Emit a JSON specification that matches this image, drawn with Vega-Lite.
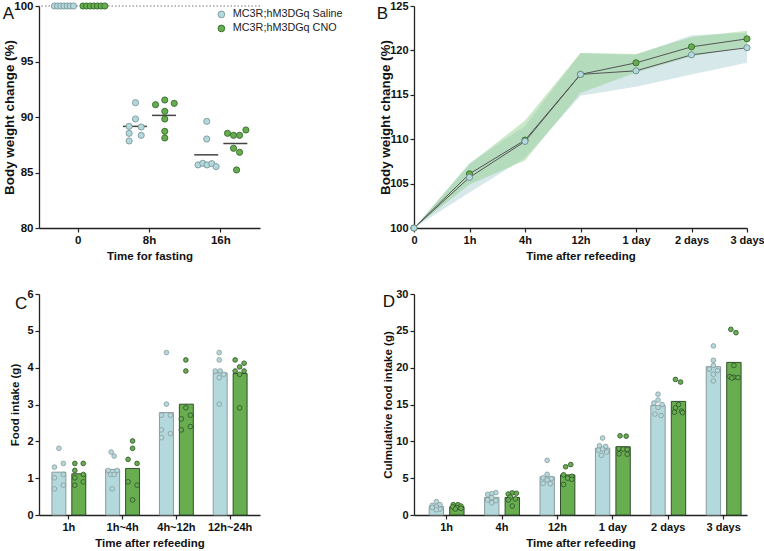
{
"$schema":"https://vega.github.io/schema/vega-lite/v6.json",
"background":"white",
"padding":{"left":2,"top":0,"right":0,"bottom":0},
"columns":2,
"spacing":{"row":66,"column":154},
"bounds":"flush",
"resolve":{"scale":{"fill":"independent","stroke":"independent","xOffset":"independent","x":"independent","y":"independent"}},
"config":{
 "view":{"stroke":null},
 "font":"Liberation Sans",
 "axis":{"labelFont":"Liberation Sans","titleFont":"Liberation Sans","labelFontSize":11,"titleFontSize":11.5,"labelFontWeight":"bold","titleFontWeight":"bold","labelColor":"#111","titleColor":"#111","domainColor":"#222","tickColor":"#222","domainWidth":1.3,"tickWidth":1.2,"tickSize":4,"grid":false,"labelPadding":2,"titlePadding":5},
 "axisY":{"titlePadding":2},
 "title":{"font":"Liberation Sans","fontSize":17,"fontWeight":"normal","color":"#111","anchor":"start","frame":"bounds","offset":0}
},
"datasets":{
 "fast":[
  {"time":"0","group":"MC3R;hM3DGq Saline","pct":100,"col":-3.27},
  {"time":"0","group":"MC3R;hM3DGq Saline","pct":100,"col":-2.83},
  {"time":"0","group":"MC3R;hM3DGq Saline","pct":100,"col":-2.4},
  {"time":"0","group":"MC3R;hM3DGq Saline","pct":100,"col":-1.96},
  {"time":"0","group":"MC3R;hM3DGq Saline","pct":100,"col":-1.52},
  {"time":"0","group":"MC3R;hM3DGq Saline","pct":100,"col":-1.09},
  {"time":"0","group":"MC3R;hM3DGq Saline","pct":100,"col":-0.65},
  {"time":"0","group":"MC3R;hM3DGq CNO","pct":100,"col":0.65},
  {"time":"0","group":"MC3R;hM3DGq CNO","pct":100,"col":1.15},
  {"time":"0","group":"MC3R;hM3DGq CNO","pct":100,"col":1.65},
  {"time":"0","group":"MC3R;hM3DGq CNO","pct":100,"col":2.15},
  {"time":"0","group":"MC3R;hM3DGq CNO","pct":100,"col":2.65},
  {"time":"0","group":"MC3R;hM3DGq CNO","pct":100,"col":3.15},
  {"time":"0","group":"MC3R;hM3DGq CNO","pct":100,"col":3.65},
  {"time":"8h","group":"MC3R;hM3DGq Saline","pct":91.29,"col":-1.93},
  {"time":"8h","group":"MC3R;hM3DGq Saline","pct":89.82,"col":-1.93},
  {"time":"8h","group":"MC3R;hM3DGq Saline","pct":89.16,"col":-2.8},
  {"time":"8h","group":"MC3R;hM3DGq Saline","pct":89.10,"col":-1.14},
  {"time":"8h","group":"MC3R;hM3DGq Saline","pct":88.53,"col":-2.8},
  {"time":"8h","group":"MC3R;hM3DGq Saline","pct":88.35,"col":-1.14},
  {"time":"8h","group":"MC3R;hM3DGq Saline","pct":87.84,"col":-2.8},
  {"time":"8h","group":"MC3R;hM3DGq CNO","pct":91.53,"col":2.1},
  {"time":"8h","group":"MC3R;hM3DGq CNO","pct":91.11,"col":0.83},
  {"time":"8h","group":"MC3R;hM3DGq CNO","pct":91.23,"col":3.4},
  {"time":"8h","group":"MC3R;hM3DGq CNO","pct":90.51,"col":2.1},
  {"time":"8h","group":"MC3R;hM3DGq CNO","pct":89.82,"col":2.1},
  {"time":"8h","group":"MC3R;hM3DGq CNO","pct":88.71,"col":2.1},
  {"time":"8h","group":"MC3R;hM3DGq CNO","pct":88.11,"col":2.1},
  {"time":"16h","group":"MC3R;hM3DGq Saline","pct":89.61,"col":-1.93},
  {"time":"16h","group":"MC3R;hM3DGq Saline","pct":88.02,"col":-1.93},
  {"time":"16h","group":"MC3R;hM3DGq Saline","pct":85.68,"col":-3.13},
  {"time":"16h","group":"MC3R;hM3DGq Saline","pct":85.83,"col":-2.48},
  {"time":"16h","group":"MC3R;hM3DGq Saline","pct":85.68,"col":-1.9},
  {"time":"16h","group":"MC3R;hM3DGq Saline","pct":85.80,"col":-1.24},
  {"time":"16h","group":"MC3R;hM3DGq Saline","pct":85.53,"col":-0.65},
  {"time":"16h","group":"MC3R;hM3DGq CNO","pct":88.53,"col":0.92},
  {"time":"16h","group":"MC3R;hM3DGq CNO","pct":88.35,"col":1.75},
  {"time":"16h","group":"MC3R;hM3DGq CNO","pct":88.35,"col":2.58},
  {"time":"16h","group":"MC3R;hM3DGq CNO","pct":88.83,"col":3.45},
  {"time":"16h","group":"MC3R;hM3DGq CNO","pct":87.18,"col":1.75},
  {"time":"16h","group":"MC3R;hM3DGq CNO","pct":86.82,"col":2.58},
  {"time":"16h","group":"MC3R;hM3DGq CNO","pct":85.23,"col":2.17}
 ],
 "refeed":[
  {"time":"0","group":"MC3R;hM3DGq CNO","mean":100,"lo":100,"hi":100},
  {"time":"1h","group":"MC3R;hM3DGq CNO","mean":106.1,"lo":104.9,"hi":107.2},
  {"time":"4h","group":"MC3R;hM3DGq CNO","mean":109.9,"lo":107.6,"hi":112.1},
  {"time":"12h","group":"MC3R;hM3DGq CNO","mean":117.3,"lo":115.2,"hi":119.7},
  {"time":"1 day","group":"MC3R;hM3DGq CNO","mean":118.6,"lo":117.5,"hi":119.6},
  {"time":"2 days","group":"MC3R;hM3DGq CNO","mean":120.4,"lo":119.3,"hi":121.5},
  {"time":"3 days","group":"MC3R;hM3DGq CNO","mean":121.3,"lo":120.4,"hi":122.2},
  {"time":"0","group":"MC3R;hM3DGq Saline","mean":100,"lo":100,"hi":100},
  {"time":"1h","group":"MC3R;hM3DGq Saline","mean":105.7,"lo":104.0,"hi":107.3},
  {"time":"4h","group":"MC3R;hM3DGq Saline","mean":109.75,"lo":107.9,"hi":111.5},
  {"time":"12h","group":"MC3R;hM3DGq Saline","mean":117.3,"lo":114.9,"hi":119.7},
  {"time":"1 day","group":"MC3R;hM3DGq Saline","mean":117.7,"lo":115.9,"hi":119.5},
  {"time":"2 days","group":"MC3R;hM3DGq Saline","mean":119.5,"lo":117.3,"hi":121.7},
  {"time":"3 days","group":"MC3R;hM3DGq Saline","mean":120.3,"lo":118.6,"hi":122.0}
 ],
 "intake":[
  {"time":"1h","group":"MC3R;hM3DGq Saline","g":1.81,"col":-2},
  {"time":"1h","group":"MC3R;hM3DGq Saline","g":1.30,"col":-2.9},
  {"time":"1h","group":"MC3R;hM3DGq Saline","g":1.40,"col":-1.1},
  {"time":"1h","group":"MC3R;hM3DGq Saline","g":1.01,"col":-2.9},
  {"time":"1h","group":"MC3R;hM3DGq Saline","g":1.10,"col":-1.1},
  {"time":"1h","group":"MC3R;hM3DGq Saline","g":0.71,"col":-2.9},
  {"time":"1h","group":"MC3R;hM3DGq Saline","g":0.81,"col":-1.1},
  {"time":"1h","group":"MC3R;hM3DGq CNO","g":1.40,"col":1.2},
  {"time":"1h","group":"MC3R;hM3DGq CNO","g":1.40,"col":2.9},
  {"time":"1h","group":"MC3R;hM3DGq CNO","g":1.21,"col":1.2},
  {"time":"1h","group":"MC3R;hM3DGq CNO","g":1.10,"col":2.9},
  {"time":"1h","group":"MC3R;hM3DGq CNO","g":1.01,"col":1.2},
  {"time":"1h","group":"MC3R;hM3DGq CNO","g":0.90,"col":2.9},
  {"time":"1h","group":"MC3R;hM3DGq CNO","g":0.81,"col":1.2},
  {"time":"1h~4h","group":"MC3R;hM3DGq Saline","g":1.71,"col":-2.3},
  {"time":"1h~4h","group":"MC3R;hM3DGq Saline","g":1.60,"col":-1.7},
  {"time":"1h~4h","group":"MC3R;hM3DGq Saline","g":1.21,"col":-2.9},
  {"time":"1h~4h","group":"MC3R;hM3DGq Saline","g":1.21,"col":-1.1},
  {"time":"1h~4h","group":"MC3R;hM3DGq Saline","g":1.10,"col":-2.4},
  {"time":"1h~4h","group":"MC3R;hM3DGq Saline","g":1.10,"col":-1.7},
  {"time":"1h~4h","group":"MC3R;hM3DGq Saline","g":0.71,"col":-2.1},
  {"time":"1h~4h","group":"MC3R;hM3DGq CNO","g":2.01,"col":2},
  {"time":"1h~4h","group":"MC3R;hM3DGq CNO","g":1.81,"col":2},
  {"time":"1h~4h","group":"MC3R;hM3DGq CNO","g":1.51,"col":1.1},
  {"time":"1h~4h","group":"MC3R;hM3DGq CNO","g":1.40,"col":2.9},
  {"time":"1h~4h","group":"MC3R;hM3DGq CNO","g":0.90,"col":1.1},
  {"time":"1h~4h","group":"MC3R;hM3DGq CNO","g":0.81,"col":2.9},
  {"time":"1h~4h","group":"MC3R;hM3DGq CNO","g":0.41,"col":2},
  {"time":"4h~12h","group":"MC3R;hM3DGq Saline","g":4.41,"col":-2},
  {"time":"4h~12h","group":"MC3R;hM3DGq Saline","g":3.01,"col":-2},
  {"time":"4h~12h","group":"MC3R;hM3DGq Saline","g":2.71,"col":-3},
  {"time":"4h~12h","group":"MC3R;hM3DGq Saline","g":2.71,"col":-1.2},
  {"time":"4h~12h","group":"MC3R;hM3DGq Saline","g":2.31,"col":-3},
  {"time":"4h~12h","group":"MC3R;hM3DGq Saline","g":2.21,"col":-1.2},
  {"time":"4h~12h","group":"MC3R;hM3DGq Saline","g":2.10,"col":-3},
  {"time":"4h~12h","group":"MC3R;hM3DGq CNO","g":4.21,"col":1.9},
  {"time":"4h~12h","group":"MC3R;hM3DGq CNO","g":3.91,"col":1.9},
  {"time":"4h~12h","group":"MC3R;hM3DGq CNO","g":2.91,"col":1.9},
  {"time":"4h~12h","group":"MC3R;hM3DGq CNO","g":2.61,"col":1},
  {"time":"4h~12h","group":"MC3R;hM3DGq CNO","g":2.71,"col":2.8},
  {"time":"4h~12h","group":"MC3R;hM3DGq CNO","g":2.31,"col":1},
  {"time":"4h~12h","group":"MC3R;hM3DGq CNO","g":2.40,"col":2.8},
  {"time":"12h~24h","group":"MC3R;hM3DGq Saline","g":4.41,"col":-2.2},
  {"time":"12h~24h","group":"MC3R;hM3DGq Saline","g":4.21,"col":-2.2},
  {"time":"12h~24h","group":"MC3R;hM3DGq Saline","g":3.91,"col":-3},
  {"time":"12h~24h","group":"MC3R;hM3DGq Saline","g":3.91,"col":-2},
  {"time":"12h~24h","group":"MC3R;hM3DGq Saline","g":3.82,"col":-1.3},
  {"time":"12h~24h","group":"MC3R;hM3DGq Saline","g":3.73,"col":-2.2},
  {"time":"12h~24h","group":"MC3R;hM3DGq Saline","g":3.01,"col":-2.2},
  {"time":"12h~24h","group":"MC3R;hM3DGq CNO","g":4.21,"col":1},
  {"time":"12h~24h","group":"MC3R;hM3DGq CNO","g":4.12,"col":2.8},
  {"time":"12h~24h","group":"MC3R;hM3DGq CNO","g":4.02,"col":1.9},
  {"time":"12h~24h","group":"MC3R;hM3DGq CNO","g":3.91,"col":1},
  {"time":"12h~24h","group":"MC3R;hM3DGq CNO","g":3.91,"col":2.8},
  {"time":"12h~24h","group":"MC3R;hM3DGq CNO","g":3.82,"col":1.9},
  {"time":"12h~24h","group":"MC3R;hM3DGq CNO","g":2.91,"col":1.9}
 ],
 "cumul":[
  {"time":"1h","group":"MC3R;hM3DGq Saline","g":1.81,"col":-2},
  {"time":"1h","group":"MC3R;hM3DGq Saline","g":1.40,"col":-1.3},
  {"time":"1h","group":"MC3R;hM3DGq Saline","g":1.30,"col":-2.8},
  {"time":"1h","group":"MC3R;hM3DGq Saline","g":1.10,"col":-2},
  {"time":"1h","group":"MC3R;hM3DGq Saline","g":1.01,"col":-2.8},
  {"time":"1h","group":"MC3R;hM3DGq Saline","g":0.81,"col":-1.3},
  {"time":"1h","group":"MC3R;hM3DGq Saline","g":0.71,"col":-2},
  {"time":"1h","group":"MC3R;hM3DGq CNO","g":1.40,"col":1.3},
  {"time":"1h","group":"MC3R;hM3DGq CNO","g":1.40,"col":2.2},
  {"time":"1h","group":"MC3R;hM3DGq CNO","g":1.21,"col":2.8},
  {"time":"1h","group":"MC3R;hM3DGq CNO","g":1.10,"col":1.2},
  {"time":"1h","group":"MC3R;hM3DGq CNO","g":1.01,"col":2.0},
  {"time":"1h","group":"MC3R;hM3DGq CNO","g":0.90,"col":2.8},
  {"time":"1h","group":"MC3R;hM3DGq CNO","g":0.81,"col":1.7},
  {"time":"4h","group":"MC3R;hM3DGq Saline","g":3.03,"col":-1.2},
  {"time":"4h","group":"MC3R;hM3DGq Saline","g":2.90,"col":-2},
  {"time":"4h","group":"MC3R;hM3DGq Saline","g":2.81,"col":-2.8},
  {"time":"4h","group":"MC3R;hM3DGq Saline","g":2.36,"col":-2},
  {"time":"4h","group":"MC3R;hM3DGq Saline","g":2.04,"col":-2.8},
  {"time":"4h","group":"MC3R;hM3DGq Saline","g":1.95,"col":-1.2},
  {"time":"4h","group":"MC3R;hM3DGq Saline","g":1.66,"col":-2},
  {"time":"4h","group":"MC3R;hM3DGq CNO","g":3.00,"col":2},
  {"time":"4h","group":"MC3R;hM3DGq CNO","g":2.95,"col":2.8},
  {"time":"4h","group":"MC3R;hM3DGq CNO","g":2.85,"col":1.2},
  {"time":"4h","group":"MC3R;hM3DGq CNO","g":2.45,"col":1.6},
  {"time":"4h","group":"MC3R;hM3DGq CNO","g":2.20,"col":2.6},
  {"time":"4h","group":"MC3R;hM3DGq CNO","g":2.05,"col":1.2},
  {"time":"4h","group":"MC3R;hM3DGq CNO","g":1.22,"col":2},
  {"time":"12h","group":"MC3R;hM3DGq Saline","g":7.42,"col":-2},
  {"time":"12h","group":"MC3R;hM3DGq Saline","g":5.52,"col":-2},
  {"time":"12h","group":"MC3R;hM3DGq Saline","g":5.05,"col":-2.8},
  {"time":"12h","group":"MC3R;hM3DGq Saline","g":4.95,"col":-1.2},
  {"time":"12h","group":"MC3R;hM3DGq Saline","g":4.75,"col":-2},
  {"time":"12h","group":"MC3R;hM3DGq Saline","g":4.30,"col":-2.8},
  {"time":"12h","group":"MC3R;hM3DGq Saline","g":4.25,"col":-1.4},
  {"time":"12h","group":"MC3R;hM3DGq CNO","g":6.85,"col":2.6},
  {"time":"12h","group":"MC3R;hM3DGq CNO","g":6.55,"col":1.6},
  {"time":"12h","group":"MC3R;hM3DGq CNO","g":5.45,"col":1.2},
  {"time":"12h","group":"MC3R;hM3DGq CNO","g":5.25,"col":2.8},
  {"time":"12h","group":"MC3R;hM3DGq CNO","g":5.00,"col":2},
  {"time":"12h","group":"MC3R;hM3DGq CNO","g":4.85,"col":2.8},
  {"time":"12h","group":"MC3R;hM3DGq CNO","g":4.15,"col":1.2},
  {"time":"1 day","group":"MC3R;hM3DGq Saline","g":10.45,"col":-2},
  {"time":"1 day","group":"MC3R;hM3DGq Saline","g":9.40,"col":-2.6},
  {"time":"1 day","group":"MC3R;hM3DGq Saline","g":9.30,"col":-1.4},
  {"time":"1 day","group":"MC3R;hM3DGq Saline","g":8.95,"col":-2},
  {"time":"1 day","group":"MC3R;hM3DGq Saline","g":8.80,"col":-2.8},
  {"time":"1 day","group":"MC3R;hM3DGq Saline","g":8.55,"col":-1.2},
  {"time":"1 day","group":"MC3R;hM3DGq Saline","g":8.10,"col":-2.2},
  {"time":"1 day","group":"MC3R;hM3DGq CNO","g":10.75,"col":1.4},
  {"time":"1 day","group":"MC3R;hM3DGq CNO","g":10.70,"col":2.6},
  {"time":"1 day","group":"MC3R;hM3DGq CNO","g":9.00,"col":1.2},
  {"time":"1 day","group":"MC3R;hM3DGq CNO","g":8.95,"col":2},
  {"time":"1 day","group":"MC3R;hM3DGq CNO","g":8.90,"col":2.8},
  {"time":"1 day","group":"MC3R;hM3DGq CNO","g":8.30,"col":1.2},
  {"time":"1 day","group":"MC3R;hM3DGq CNO","g":8.25,"col":2.8},
  {"time":"2 days","group":"MC3R;hM3DGq Saline","g":16.40,"col":-2},
  {"time":"2 days","group":"MC3R;hM3DGq Saline","g":15.60,"col":-2},
  {"time":"2 days","group":"MC3R;hM3DGq Saline","g":15.20,"col":-2.8},
  {"time":"2 days","group":"MC3R;hM3DGq Saline","g":15.00,"col":-1.2},
  {"time":"2 days","group":"MC3R;hM3DGq Saline","g":14.60,"col":-2},
  {"time":"2 days","group":"MC3R;hM3DGq Saline","g":13.70,"col":-2.6},
  {"time":"2 days","group":"MC3R;hM3DGq Saline","g":13.50,"col":-1.4},
  {"time":"2 days","group":"MC3R;hM3DGq CNO","g":18.40,"col":1.4},
  {"time":"2 days","group":"MC3R;hM3DGq CNO","g":18.05,"col":2.4},
  {"time":"2 days","group":"MC3R;hM3DGq CNO","g":15.00,"col":2},
  {"time":"2 days","group":"MC3R;hM3DGq CNO","g":14.55,"col":1.4},
  {"time":"2 days","group":"MC3R;hM3DGq CNO","g":14.10,"col":2.6},
  {"time":"2 days","group":"MC3R;hM3DGq CNO","g":13.95,"col":1.2},
  {"time":"2 days","group":"MC3R;hM3DGq CNO","g":13.90,"col":2.8},
  {"time":"3 days","group":"MC3R;hM3DGq Saline","g":22.95,"col":-2},
  {"time":"3 days","group":"MC3R;hM3DGq Saline","g":21.00,"col":-2},
  {"time":"3 days","group":"MC3R;hM3DGq Saline","g":20.30,"col":-2},
  {"time":"3 days","group":"MC3R;hM3DGq Saline","g":19.80,"col":-2.8},
  {"time":"3 days","group":"MC3R;hM3DGq Saline","g":19.60,"col":-1.2},
  {"time":"3 days","group":"MC3R;hM3DGq Saline","g":19.10,"col":-2},
  {"time":"3 days","group":"MC3R;hM3DGq Saline","g":18.20,"col":-2},
  {"time":"3 days","group":"MC3R;hM3DGq CNO","g":25.20,"col":1.4},
  {"time":"3 days","group":"MC3R;hM3DGq CNO","g":24.75,"col":2.4},
  {"time":"3 days","group":"MC3R;hM3DGq CNO","g":20.30,"col":2},
  {"time":"3 days","group":"MC3R;hM3DGq CNO","g":18.80,"col":1.2},
  {"time":"3 days","group":"MC3R;hM3DGq CNO","g":18.70,"col":2},
  {"time":"3 days","group":"MC3R;hM3DGq CNO","g":18.65,"col":2.8},
  {"time":"3 days","group":"MC3R;hM3DGq CNO","g":18.60,"col":1.6}
 ]
},
"concat":[
 {
  "width":221,"height":222,
  "title":{"text":"A","dy":27,"dx":0},
  "layer":[
   {"data":{"values":[{"ref":100}]},"mark":{"type":"rule","strokeDash":[1.5,2],"color":"#777","strokeWidth":1},
    "encoding":{"y":{"field":"ref","type":"quantitative","scale":{"domain":[80,100],"nice":false,"zero":false},"axis":{"title":"Body weight change (%)","values":[80,85,90,95,100],"titleFontSize":13.4,"labelFontSize":11.5,"titlePadding":-3}}}},
   {"data":{"name":"fast"},"mark":{"type":"tick","size":24,"thickness":1.5,"color":"#444"},
    "encoding":{
     "x":{"field":"time","type":"nominal","sort":["0","8h","16h"],"scale":{"type":"band","paddingInner":0,"paddingOuter":0.05},"axis":{"title":"Time for fasting","labelAngle":0,"labelFontSize":11.5}},
     "xOffset":{"field":"group","type":"nominal","sort":["MC3R;hM3DGq Saline","MC3R;hM3DGq CNO"],"scale":{"type":"band","paddingInner":0,"paddingOuter":0.224}},
     "y":{"aggregate":"mean","field":"pct","type":"quantitative","axis":{"title":"Body weight change (%)","values":[80,85,90,95,100],"titleFontSize":13.4,"labelFontSize":11.5,"titlePadding":-3}}}},
   {"data":{"name":"fast"},"mark":{"type":"circle","size":38,"opacity":1,"strokeWidth":0.9},
    "encoding":{
     "x":{"field":"time","type":"nominal","sort":["0","8h","16h"],"axis":{"title":"Time for fasting","labelAngle":0,"labelFontSize":11.5}},
     "xOffset":{"field":"col","type":"quantitative","scale":{"domain":[-4.9,4.9]}},
     "y":{"field":"pct","type":"quantitative","axis":{"title":"Body weight change (%)","values":[80,85,90,95,100],"titleFontSize":13.4,"labelFontSize":11.5,"titlePadding":-3}},
     "fill":{"field":"group","type":"nominal","scale":{"domain":["MC3R;hM3DGq Saline","MC3R;hM3DGq CNO"],"range":["#b3d9dd","#66ad4f"]},
       "legend":{"title":null,"orient":"none","legendX":177,"legendY":3,"labelFontSize":10.8,"labelFontWeight":"normal","labelFont":"Liberation Sans","labelColor":"#222","symbolSize":45,"symbolStrokeWidth":0.9,"rowPadding":2,"labelOffset":6}},
     "stroke":{"field":"group","type":"nominal","scale":{"domain":["MC3R;hM3DGq Saline","MC3R;hM3DGq CNO"],"range":["#7a969a","#356a2b"]},
       "legend":{"title":null,"orient":"none","legendX":177,"legendY":3,"labelFontSize":10.8,"labelFontWeight":"normal","labelFont":"Liberation Sans","labelColor":"#222","symbolSize":45,"symbolStrokeWidth":0.9,"rowPadding":2,"labelOffset":6}}}}
  ],
  "resolve":{"scale":{"xOffset":"independent"}}
 },
 {
  "width":333,"height":222,
  "title":{"text":"B","dy":27,"dx":-2},
  "data":{"name":"refeed"},
  "encoding":{"x":{"field":"time","type":"ordinal","sort":["0","1h","4h","12h","1 day","2 days","3 days"],"scale":{"type":"point","padding":0},"axis":{"title":"Time after refeeding","labelAngle":0}}},
  "layer":[
   {"transform":[{"filter":"datum.group === 'MC3R;hM3DGq Saline'"}],"mark":{"type":"area","color":"#bcd9de","opacity":0.6},
    "encoding":{"y":{"field":"lo","type":"quantitative","scale":{"domain":[100,125],"nice":false,"zero":false},"axis":{"title":"Body weight change (%)","values":[100,105,110,115,120,125],"titleFontSize":13.4,"titlePadding":-3}},"y2":{"field":"hi"}}},
   {"transform":[{"filter":"datum.group === 'MC3R;hM3DGq CNO'"}],"mark":{"type":"area","color":"#8ccb86","opacity":0.45},
    "encoding":{"y":{"field":"lo","type":"quantitative","axis":{"title":"Body weight change (%)","values":[100,105,110,115,120,125],"titleFontSize":13.4,"titlePadding":-3}},"y2":{"field":"hi"}}},
   {"mark":{"type":"line","color":"#555","strokeWidth":1},
    "encoding":{"y":{"field":"mean","type":"quantitative","axis":{"title":"Body weight change (%)","values":[100,105,110,115,120,125],"titleFontSize":13.4,"titlePadding":-3}},"detail":{"field":"group"}}},
   {"mark":{"type":"circle","size":38,"opacity":1,"strokeWidth":0.9},
    "encoding":{"y":{"field":"mean","type":"quantitative","axis":{"title":"Body weight change (%)","values":[100,105,110,115,120,125],"titleFontSize":13.4,"titlePadding":-3}},
     "fill":{"field":"group","type":"nominal","scale":{"domain":["MC3R;hM3DGq Saline","MC3R;hM3DGq CNO"],"range":["#b3d9dd","#66ad4f"]},"legend":null},
     "stroke":{"field":"group","type":"nominal","scale":{"domain":["MC3R;hM3DGq Saline","MC3R;hM3DGq CNO"],"range":["#6f8b90","#356a2b"]},"legend":null}}}
  ]
 },
 {
  "width":221,"height":221,
  "title":{"text":"C","dy":29,"dx":5},
  "data":{"name":"intake"},
  "encoding":{"x":{"field":"time","type":"nominal","sort":["1h","1h~4h","4h~12h","12h~24h"],"scale":{"type":"band","paddingInner":0,"paddingOuter":0.055},"axis":{"title":"Time after refeeding","labelAngle":0}}},
  "layer":[
   {"mark":{"type":"bar","strokeWidth":1},
    "encoding":{
     "xOffset":{"field":"group","type":"nominal","sort":["MC3R;hM3DGq Saline","MC3R;hM3DGq CNO"],"scale":{"type":"band","paddingInner":0.3,"paddingOuter":0.5}},
     "y":{"aggregate":"mean","field":"g","type":"quantitative","scale":{"domain":[0,6],"nice":false},"axis":{"title":"Food intake (g)","values":[0,1,2,3,4,5,6],"titlePadding":6}},
     "fill":{"field":"group","type":"nominal","scale":{"domain":["MC3R;hM3DGq Saline","MC3R;hM3DGq CNO"],"range":["#b3d9dd","#68ae50"]},"legend":null},
     "stroke":{"field":"group","type":"nominal","scale":{"domain":["MC3R;hM3DGq Saline","MC3R;hM3DGq CNO"],"range":["#8a999b","#2f4f2a"]},"legend":null}}},
   {"mark":{"type":"circle","size":22,"opacity":1,"strokeWidth":0.8},
    "encoding":{
     "xOffset":{"field":"col","type":"quantitative","scale":{"domain":[-5.4,5.4]}},
     "y":{"field":"g","type":"quantitative","axis":{"title":"Food intake (g)","values":[0,1,2,3,4,5,6],"titlePadding":6}},
     "fill":{"field":"group","type":"nominal","legend":null},
     "stroke":{"field":"group","type":"nominal","legend":null}}}
  ],
  "resolve":{"scale":{"xOffset":"independent"}}
 },
 {
  "width":333,"height":221,
  "title":{"text":"D","dy":27,"dx":0},
  "data":{"name":"cumul"},
  "encoding":{"x":{"field":"time","type":"nominal","sort":["1h","4h","12h","1 day","2 days","3 days"],"scale":{"type":"band","paddingInner":0.3,"paddingOuter":0.155,"align":0.77},"axis":{"title":"Time after refeeding","labelAngle":0}}},
  "layer":[
   {"mark":{"type":"bar","strokeWidth":1},
    "encoding":{
     "xOffset":{"field":"group","type":"nominal","sort":["MC3R;hM3DGq Saline","MC3R;hM3DGq CNO"],"scale":{"type":"band","paddingInner":0.3,"paddingOuter":0.096}},
     "y":{"aggregate":"mean","field":"g","type":"quantitative","scale":{"domain":[0,30],"nice":false},"axis":{"title":"Culmulative food intake (g)","values":[0,5,10,15,20,25,30]}},
     "fill":{"field":"group","type":"nominal","scale":{"domain":["MC3R;hM3DGq Saline","MC3R;hM3DGq CNO"],"range":["#b3d9dd","#68ae50"]},"legend":null},
     "stroke":{"field":"group","type":"nominal","scale":{"domain":["MC3R;hM3DGq Saline","MC3R;hM3DGq CNO"],"range":["#8a999b","#2f4f2a"]},"legend":null}}},
   {"mark":{"type":"circle","size":22,"opacity":1,"strokeWidth":0.8},
    "encoding":{
     "xOffset":{"field":"col","type":"quantitative","scale":{"domain":[-3.78,3.78]}},
     "y":{"field":"g","type":"quantitative","axis":{"title":"Culmulative food intake (g)","values":[0,5,10,15,20,25,30]}},
     "fill":{"field":"group","type":"nominal","legend":null},
     "stroke":{"field":"group","type":"nominal","legend":null}}}
  ],
  "resolve":{"scale":{"xOffset":"independent"}}
 }
]
}
